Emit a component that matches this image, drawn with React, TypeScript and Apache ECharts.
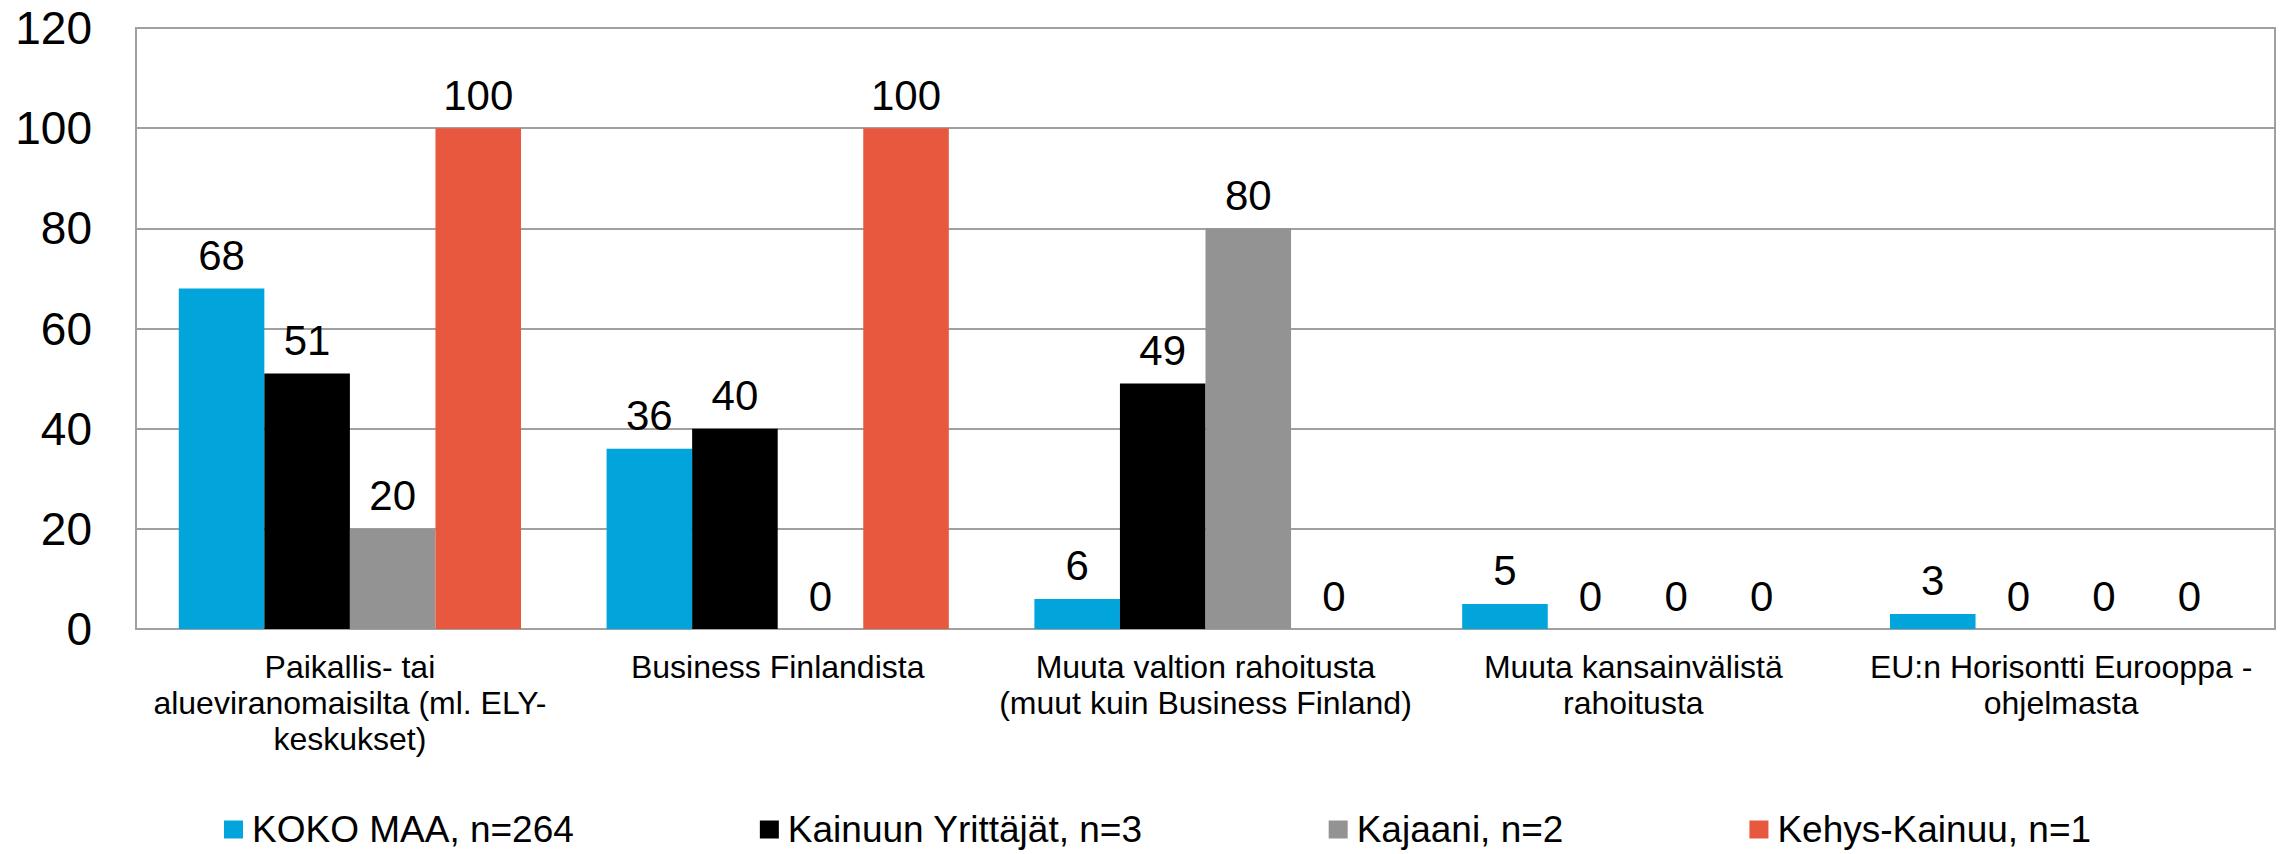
import React, { useEffect, useRef } from "react";
import * as echarts from "echarts";

const categories = [
  "Paikallis- tai\nalueviranomaisilta (ml. ELY-\nkeskukset)",
  "Business Finlandista",
  "Muuta valtion rahoitusta\n(muut kuin Business Finland)",
  "Muuta kansainvälistä\nrahoitusta",
  "EU:n Horisontti Eurooppa -\nohjelmasta",
];
const seriesNames = [
  "KOKO MAA, n=264",
  "Kainuun Yrittäjät, n=3",
  "Kajaani, n=2",
  "Kehys-Kainuu, n=1",
];
const kokoMaa = [68, 36, 6, 5, 3];
const kainuunYrittajat = [51, 40, 49, 0, 0];
const kajaani = [20, 0, 80, 0, 0];
const kehysKainuu = [100, 100, 0, 0, 0];
const yTicks = { min: 0, max: 120, interval: 20 };

const colors = ["#02A5DB", "#000000", "#939393", "#E8583F"];
const FONT = "'Liberation Sans', Arial, Helvetica, sans-serif";

export default function App() {
  const ref = useRef<HTMLDivElement>(null);
  useEffect(() => {
    if (!ref.current) return;
    const chart = echarts.init(ref.current, undefined, { renderer: "svg" });
    const values = [kokoMaa, kainuunYrittajat, kajaani, kehysKainuu];
    chart.setOption({
      animation: false,
      textStyle: { fontFamily: FONT },
      grid: {
        left: 136,
        right: 10,
        top: 28,
        bottom: 225,
        show: true,
        borderColor: "#A0A0A0",
        borderWidth: 2,
        containLabel: false,
      },
      legend: {
        left: 219,
        top: 806,
        itemWidth: 19,
        itemHeight: 18,
        itemGap: 186,
        icon: "rect",
        textStyle: {
          fontSize: 37,
          color: "#000",
          fontFamily: FONT,
          padding: [0, 0, 0, 4],
        },
        data: seriesNames,
      },
      xAxis: {
        type: "category",
        data: categories,
        axisLine: { show: true, lineStyle: { color: "#A0A0A0", width: 2 } },
        axisTick: { show: false },
        axisLabel: {
          interval: 0,
          fontSize: 32,
          lineHeight: 36,
          color: "#000",
          margin: 20,
          fontFamily: FONT,
        },
      },
      yAxis: {
        type: "value",
        min: yTicks.min,
        max: yTicks.max,
        interval: yTicks.interval,
        axisLine: { show: true, lineStyle: { color: "#A0A0A0", width: 2 } },
        axisTick: { show: false },
        splitLine: { show: true, lineStyle: { color: "#A0A0A0", width: 2 } },
        axisLabel: {
          fontSize: 46,
          color: "#000",
          margin: 44,
          fontFamily: FONT,
        },
      },
      series: seriesNames.map((name, i) => ({
        name,
        type: "bar",
        data: values[i],
        barGap: "0%",
        barCategoryGap: "20%",
        itemStyle: { color: colors[i] },
        label: {
          show: true,
          position: "top",
          distance: 12,
          fontSize: 42,
          color: "#000",
          fontFamily: FONT,
        },
      })),
    });
    return () => chart.dispose();
  }, []);
  return (
    <div
      ref={ref}
      style={{
        position: "fixed",
        left: 0,
        top: 0,
        width: 2285,
        height: 854,
        background: "#fff",
      }}
    />
  );
}
